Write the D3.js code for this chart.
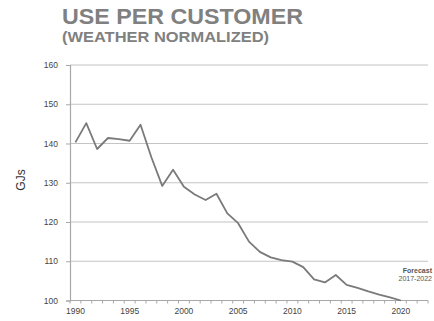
<!DOCTYPE html>
<html>
<head>
<meta charset="utf-8">
<script src="https://cdn.jsdelivr.net/npm/d3@7"></script>
<style>
  html, body { margin: 0; padding: 0; background: #fff; }
  svg { display: block; font-family: "Liberation Sans", Arial, sans-serif; }
</style>
</head>
<body>
<svg id="chart" width="434" height="321"></svg>
<script>
// Annual use per customer, weather normalized (GJ)
const years = d3.range(1990, 2023);
const useYears = d3.range(1990, 2021);
const useValues = [
  140.3, 145.2, 138.6, 141.4, 141.1, 140.7, 144.8, 136.5, 129.2, 133.3,
  129.0, 127.0, 125.6, 127.2, 122.2, 119.7, 115.0, 112.4, 111.0, 110.3,
  109.9, 108.5, 105.4, 104.6, 106.5, 104.0, 103.2, 102.3, 101.5, 100.8,
  100.0
];
const yTicks = [100, 110, 120, 130, 140, 150, 160];
const xTickLabels = [1990, 1995, 2000, 2005, 2010, 2015, 2020];
const titleText = "USE PER CUSTOMER";
const subtitleText = "(WEATHER NORMALIZED)";
const yLabel = "GJs";
const noteLines = ["Forecast", "2017-2022"];

const svg = d3.select("#chart");
const plot = { left: 70, right: 428, top: 65, bottom: 300.5 };

const x = d3.scaleBand().domain(years).range([plot.left, plot.right]);
const y = d3.scaleLinear().domain([100, 160]).range([plot.bottom, plot.top]);
const cx = yr => x(yr) + x.bandwidth() / 2;

// Titles
svg.append("text").attr("x", 62).attr("y", 23.5)
  .attr("font-size", 22.5).attr("font-weight", "bold").attr("fill", "#808080")
  .attr("textLength", 241).attr("lengthAdjust", "spacingAndGlyphs")
  .text(titleText);
svg.append("text").attr("x", 62).attr("y", 41.5)
  .attr("font-size", 15).attr("font-weight", "bold").attr("fill", "#808080")
  .attr("textLength", 207).attr("lengthAdjust", "spacingAndGlyphs")
  .text(subtitleText);

// Horizontal gridlines
svg.append("g").selectAll("line").data(yTicks.filter(t => t > 100)).join("line")
  .attr("x1", plot.left).attr("x2", plot.right)
  .attr("y1", d => y(d)).attr("y2", d => y(d))
  .attr("stroke", "#c4c4c4").attr("stroke-width", 1.2);

// Y axis
const yAxis = svg.append("g").attr("transform", `translate(${plot.left},0)`)
  .call(d3.axisLeft(y).tickValues(yTicks).tickSize(4).tickPadding(8));
yAxis.select(".domain").attr("stroke", "#a8a8a8").attr("stroke-width", 1.2);
yAxis.selectAll(".tick line").attr("stroke", "#a8a8a8");
yAxis.selectAll("text").attr("font-size", 8.5).attr("fill", "#444")
  .attr("font-family", "Liberation Sans, Arial, sans-serif");

// X axis: ticks between categories, labels every five years
const xg = svg.append("g").attr("transform", `translate(0,${plot.bottom})`);
xg.append("line").attr("x1", plot.left).attr("x2", plot.right)
  .attr("stroke", "#a8a8a8").attr("stroke-width", 1.2);
xg.selectAll("line.tk").data(years.concat([2023])).join("line").attr("class", "tk")
  .attr("x1", d => d === 2023 ? plot.right : x(d))
  .attr("x2", d => d === 2023 ? plot.right : x(d))
  .attr("y1", 0).attr("y2", 3).attr("stroke", "#a8a8a8");
xg.selectAll("text").data(xTickLabels).join("text")
  .attr("x", d => cx(d)).attr("y", 13).attr("text-anchor", "middle")
  .attr("font-size", 8.5).attr("fill", "#444").text(d => d);

// Y axis title
svg.append("text")
  .attr("transform", "translate(25,180) rotate(-90)")
  .attr("text-anchor", "middle").attr("font-size", 12).attr("fill", "#333")
  .text(yLabel);

// Use per customer line
const line = d3.line().x((d, i) => cx(useYears[i])).y(d => y(d));
svg.append("path").datum(useValues)
  .attr("d", line).attr("fill", "none")
  .attr("stroke", "#7a7a7a").attr("stroke-width", 1.8)
  .attr("stroke-linejoin", "round");

// Forecast note
svg.append("g").selectAll("text").data(noteLines).join("text")
  .attr("x", 432).attr("y", (d, i) => 273 + i * 8)
  .attr("text-anchor", "end").attr("font-size", 7)
  .attr("font-weight", (d, i) => i === 0 ? "bold" : "normal")
  .attr("fill", "#555").text(d => d);
</script>
</body>
</html>
